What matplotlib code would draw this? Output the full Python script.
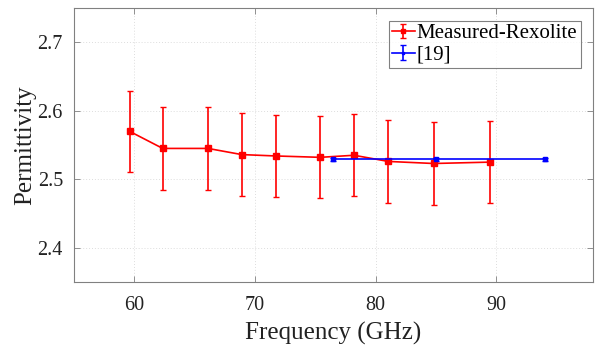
import matplotlib.pyplot as plt
from matplotlib.container import ErrorbarContainer
from matplotlib.legend_handler import HandlerErrorbar

# Measured Rexolite permittivity
freq_meas = [59.6, 62.35, 66.1, 68.9, 71.7, 75.4, 78.2, 81.05, 84.8, 89.45]
perm_meas = [2.570, 2.545, 2.545, 2.536, 2.534, 2.532, 2.535, 2.526, 2.523, 2.525]
err_meas = [0.059, 0.060, 0.060, 0.060, 0.060, 0.060, 0.060, 0.060, 0.060, 0.060]

# Reference [19]
freq_ref = [76.45, 85.0, 94.0]
perm_ref = [2.529, 2.529, 2.529]
err_ref = [0.002, 0.002, 0.002]

plt.rcParams["font.family"] = ["Liberation Serif", "DejaVu Serif"]

fig = plt.figure(figsize=(5.95, 3.49), dpi=100)
ax = fig.add_axes([74 / 595, 1 - 282 / 349, (593 - 74) / 595, (282 - 8) / 349])

ax.errorbar(freq_meas, perm_meas, yerr=err_meas, color="#ff0000", marker="s",
            markersize=4.5, linewidth=1.2, elinewidth=1.2, capsize=2.5,
            label="Measured-Rexolite")
ax.errorbar(freq_ref, perm_ref, yerr=err_ref, color="#0000ff", marker="s",
            markersize=3, linewidth=1.2, elinewidth=1.2, capsize=2.5,
            label="[19]")

ax.set_xlim(55, 98)
ax.set_ylim(2.35, 2.75)
ax.set_xticks([60, 70, 80, 90])
ax.set_yticks([2.4, 2.5, 2.6, 2.7])

ax.grid(True, linestyle=(0, (1, 2)), color="#dddddd", linewidth=0.7)
ax.tick_params(direction="in", top=True, right=True, labelsize=14.5,
               labelcolor="#222222", color="#808080", length=4, width=0.6)
ax.tick_params(axis="x", pad=10)
ax.tick_params(axis="y", pad=8)
for spine in ax.spines.values():
    spine.set_color("#808080")
    spine.set_linewidth(0.8)

ax.set_xlabel("Frequency (GHz)", fontsize=18, color="#222222", labelpad=5)
ax.set_ylabel("Permittivity", fontsize=18, color="#222222", labelpad=1)

leg = ax.legend(loc="upper right", fontsize=15, frameon=True, fancybox=False,
                borderpad=0.15, handlelength=1.1, handletextpad=0.1,
                labelspacing=0.1, borderaxespad=0.6, markerscale=0.6,
                handler_map={ErrorbarContainer: HandlerErrorbar(yerr_size=0.35)})
leg.get_frame().set_edgecolor("#606060")
leg.get_frame().set_linewidth(0.8)

fig.savefig("out.png", dpi=100)
